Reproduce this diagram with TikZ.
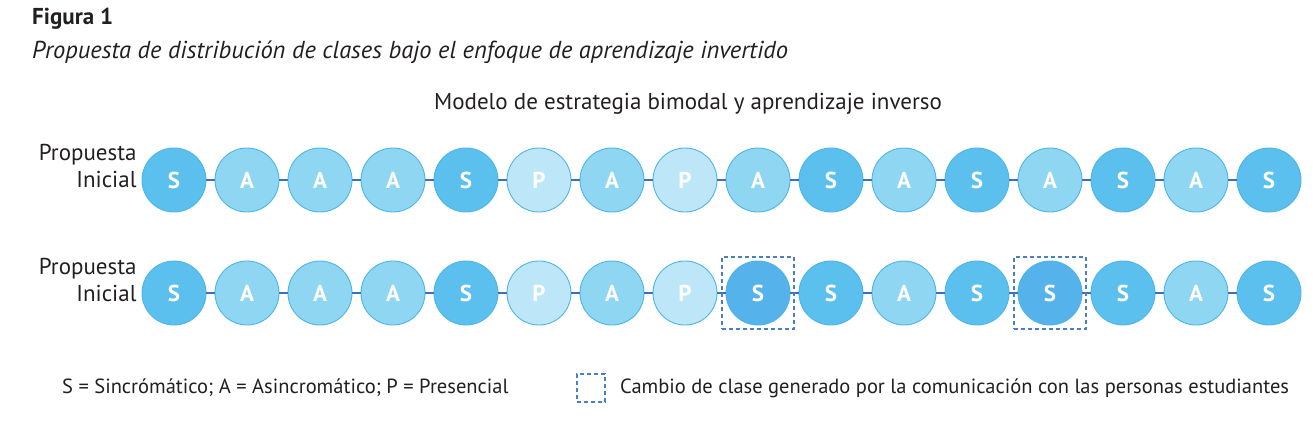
\documentclass[tikz,border=0pt]{standalone}
\usepackage{fontspec}
\setmainfont{PT Sans}
\definecolor{colS}{HTML}{5BC0EE}
\definecolor{colA}{HTML}{8ED6F2}
\definecolor{colP}{HTML}{BDE6F8}
\definecolor{colX}{HTML}{55B2EA}
\definecolor{rim}{HTML}{4DB5E8}
\definecolor{link}{HTML}{3F6FB8}
\definecolor{boxc}{HTML}{4A7FC4}
\definecolor{ink}{HTML}{231F20}
\newcommand{\rowSpacing}[0]{73}

\begin{document}
\begin{tikzpicture}[x=1pt,y=-1pt]
  \tikzset{
    clase/.style={circle,minimum size=64pt,inner sep=0pt,draw=rim,line width=0.9pt,
      text=white,font=\fontsize{23}{23}\selectfont\bfseries},
    S/.style={clase,fill=colS},
    A/.style={clase,fill=colA},
    P/.style={clase,fill=colP},
    X/.style={clase,fill=colX},
    etiqueta/.style={align=right,anchor=east,text=ink,font=\fontsize{23}{27}\selectfont},
    cambio/.style={draw=boxc,dash pattern=on 4pt off 3pt,line width=1.2pt,minimum size=72pt,inner sep=0pt},
    leyenda/.style={anchor=west,text=ink,font=\fontsize{20.5}{22}\selectfont}
  }
  \useasboundingbox (0,0) rectangle (1316,426);
  % titulo
  \node[anchor=west,inner sep=0pt,text=ink,font=\fontsize{23}{23}\selectfont\bfseries] (fig) at (32,19) {Figura 1};
  \node[anchor=west,inner sep=0pt,text=ink,font=\fontsize{24.5}{24}\selectfont\itshape] (sub) at (32,52)
    {Propuesta de distribución de clases bajo el enfoque de aprendizaje invertido};
  \node[text=ink,font=\fontsize{23}{23}\selectfont] (modelo) at (688,104)
    {Modelo de estrategia bimodal y aprendizaje inverso};
  % fila inicial
  \node[etiqueta] (lab-1) at (140,166) {Propuesta\\Inicial};
  \foreach \t [count=\i] in {S,A,A,A,S,P,A,P,A,S,A,S,A,S,A,S}
    \node[\t] (a-\i) at ({174+(\i-1)*\rowSpacing},180) {\t};
  \foreach \i [evaluate=\i as \j using int(\i+1)] in {1,...,15}
    \draw[link,line width=1.6pt] (a-\i) -- (a-\j);
  % fila modificada
  \node[etiqueta] (lab-2) at (140,280) {Propuesta\\Inicial};
  \foreach \t/\s [count=\i] in {S/S,A/A,A/A,A/A,S/S,P/P,A/A,P/P,S/X,S/S,A/A,S/S,S/X,S/S,A/A,S/S}
    \node[\s] (b-\i) at ({174+(\i-1)*\rowSpacing},293) {\t};
  \foreach \i [evaluate=\i as \j using int(\i+1)] in {1,...,15}
    \draw[link,line width=1.6pt] (b-\i) -- (b-\j);
  \node[cambio] (box-9) at (b-9) {};
  \node[cambio] (box-13) at (b-13) {};
  % leyenda
  \node[leyenda,inner sep=0pt] (ley-1) at (62,388) {S = Sincrómático; A = Asincromático; P = Presencial};
  \node[cambio,minimum size=28pt] (ley-box) at (591,388) {};
  \node[leyenda,inner sep=0pt] (ley-2) at (620,388)
    {Cambio de clase generado por la comunicación con las personas estudiantes};
\end{tikzpicture}
\end{document}
